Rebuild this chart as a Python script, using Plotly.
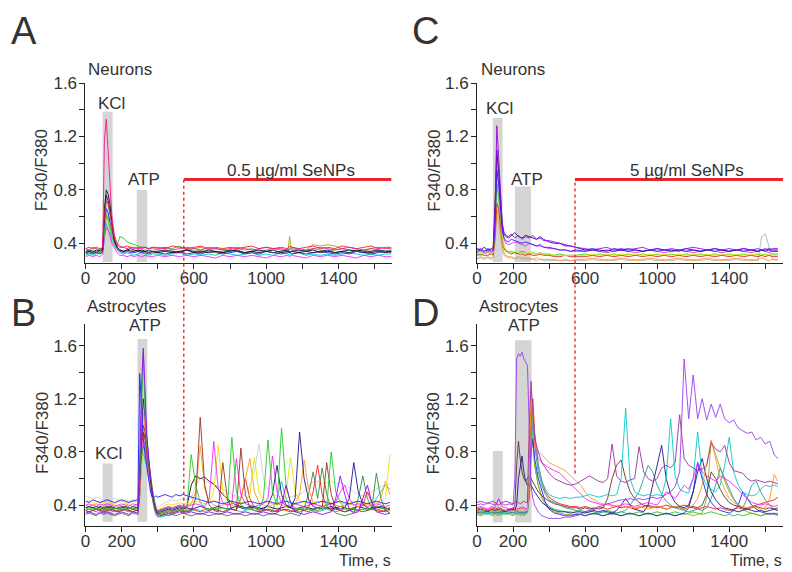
import plotly.graph_objects as go

# Fura-2 ratio traces (F340/F380 x 100)

# ---- A: neurons, 0.5 ug/ml SeNPs ----
T_A = [0, 20, 40, 60, 80, 95, 105, 115, 125, 135, 145, 160, 175, 190, 210, 230, 250, 270, 290, 310, 330, 350, 370,
       400, 440, 480, 520, 560, 600, 640, 680, 720, 760, 800, 840, 880, 920, 960, 1000, 1040, 1080, 1120, 1130,
       1140, 1180, 1220, 1260, 1300, 1340, 1380, 1420, 1460, 1500, 1540, 1580, 1620, 1660, 1694]
A_PINK = [36, 35, 37, 36, 35, 37, 118, 133, 112, 86, 62, 46, 40, 38, 37, 36, 37, 36, 37, 36, 37, 36, 37,
          36, 37, 35, 36, 37, 36, 35, 37, 36, 35, 36, 37, 36, 35, 36, 37, 36, 36, 35, 36, 37, 36, 35, 36, 37, 36,
          35, 36, 37, 36, 35, 36, 37, 36, 36]
A_BLACK = [33, 34, 33, 35, 34, 35, 66, 80, 77, 70, 57, 42, 37, 35, 34, 35, 34, 34, 35, 34, 34, 33, 34,
           33, 34, 33, 34, 35, 33, 34, 33, 34, 33, 35, 34, 33, 34, 33, 34, 35, 33, 34, 33, 34, 33, 34, 35, 33, 34,
           33, 34, 33, 35, 34, 33, 34, 33, 34]
A_GREEN = [34, 33, 35, 34, 33, 35, 50, 62, 58, 52, 45, 40, 38, 45, 44, 41, 40, 39, 38, 37, 37, 36, 36,
           35, 37, 36, 38, 35, 36, 37, 35, 36, 35, 34, 36, 35, 36, 34, 35, 36, 35, 34, 35, 36, 35, 34, 36, 35, 34,
           35, 36, 35, 34, 35, 36, 35, 34, 35]
A_BLUE = [32, 33, 32, 33, 32, 34, 55, 66, 63, 57, 49, 40, 36, 34, 33, 34, 33, 33, 34, 33, 33, 32, 33,
          33, 32, 33, 34, 32, 33, 32, 34, 33, 32, 33, 34, 32, 33, 32, 34, 33, 32, 33, 34, 32, 33, 32, 33, 34, 33,
          32, 33, 32, 34, 33, 32, 33, 34, 33]
A_NAVY = [34, 35, 34, 33, 35, 36, 60, 76, 72, 65, 55, 42, 37, 35, 34, 35, 36, 35, 34, 35, 34, 35, 34,
          34, 35, 34, 33, 35, 34, 33, 35, 34, 33, 34, 35, 33, 34, 35, 34, 33, 34, 35, 33, 34, 35, 34, 33, 34, 35,
          33, 34, 35, 34, 33, 34, 35, 34, 34]
A_CYAN = [31, 32, 31, 32, 33, 32, 45, 55, 50, 46, 42, 38, 35, 33, 32, 33, 32, 31, 32, 33, 32, 31, 32,
          32, 31, 32, 33, 31, 32, 31, 32, 31, 33, 32, 31, 32, 33, 31, 32, 31, 33, 32, 31, 32, 33, 31, 32, 31, 32,
          31, 32, 33, 32, 31, 32, 31, 32, 32]
A_OLIVE = [33, 34, 33, 34, 33, 35, 50, 60, 58, 55, 48, 40, 36, 35, 34, 34, 35, 34, 35, 34, 33, 34, 33,
           34, 35, 34, 33, 35, 34, 35, 34, 33, 34, 35, 34, 33, 34, 35, 34, 33, 34, 35, 45, 35, 34, 35, 39, 38, 39,
           38, 36, 35, 34, 35, 34, 35, 34, 35]
A_RED = [36, 37, 36, 37, 36, 37, 62, 72, 70, 63, 54, 44, 39, 37, 37, 38, 37, 37, 36, 37, 37, 36, 37,
         37, 36, 38, 37, 36, 37, 38, 36, 37, 36, 37, 36, 37, 38, 36, 37, 36, 37, 36, 38, 37, 36, 37, 38, 36, 37,
         36, 38, 37, 36, 37, 38, 36, 37, 37]
A_MAGENTA = [30, 31, 30, 31, 30, 32, 45, 52, 50, 46, 40, 36, 33, 31, 31, 30, 31, 30, 31, 30, 31, 30, 30,
             31, 30, 31, 30, 31, 30, 31, 30, 29, 31, 30, 31, 30, 31, 30, 29, 31, 30, 31, 30, 31, 30, 29, 31, 30,
             31, 30, 31, 30, 29, 31, 30, 31, 30, 30]

# ---- C: neurons, 5 ug/ml SeNPs ----
T_C = [0, 20, 40, 60, 80, 90, 100, 110, 120, 130, 140, 150, 160, 175, 190, 210, 230, 250, 270, 290, 310, 330, 350,
       370, 400, 430, 460, 490, 520, 550,
       600, 640, 680, 720, 760, 800, 840, 880, 920, 960, 1000, 1040, 1080, 1120, 1160, 1200, 1240, 1280, 1320,
       1360, 1400, 1440, 1480, 1520, 1560, 1580, 1600, 1620, 1640, 1670]
C_PURPLE = [35, 36, 34, 36, 35, 36, 60, 128, 105, 80, 55, 48, 46, 45, 47, 44, 46, 43, 45, 44, 46, 43, 44, 42, 42,
            41, 40, 39, 38, 37,
            36, 35, 36, 37, 35, 36, 35, 36, 37, 35, 36, 35, 36, 35, 36, 37, 36, 35, 36, 35, 36, 35, 36, 35, 36,
            35, 36, 35, 36, 36]
C_NAVY = [36, 35, 37, 35, 36, 37, 70, 110, 95, 75, 55, 47, 45, 44, 46, 48, 45, 44, 46, 45, 44, 43, 45, 43, 41,
          40, 40, 38, 38, 37,
          35, 36, 35, 34, 36, 35, 36, 35, 34, 35, 36, 35, 35, 34, 36, 35, 34, 35, 36, 35, 34, 35, 36, 35, 34,
          35, 35, 36, 35, 35]
C_BLUE = [34, 35, 34, 35, 34, 35, 55, 95, 85, 65, 50, 44, 42, 41, 43, 42, 41, 40, 41, 40, 39, 38, 39, 37, 37,
          36, 35, 35, 34, 35,
          34, 35, 34, 35, 34, 35, 34, 35, 34, 35, 34, 35, 34, 35, 34, 35, 34, 35, 34, 35, 34, 35, 34, 35, 34,
          35, 34, 35, 34, 34]
C_YELLOW = [32, 33, 32, 33, 32, 33, 70, 129, 100, 70, 45, 38, 35, 34, 33, 34, 33, 32, 33, 33, 32, 32, 33, 32, 32,
            31, 31, 31, 31, 31,
            31, 32, 31, 32, 31, 32, 31, 32, 31, 32, 31, 32, 31, 32, 31, 32, 31, 32, 31, 32, 31, 32, 31, 32, 31,
            32, 31, 32, 31, 31]
C_RED = [31, 32, 31, 31, 32, 31, 45, 70, 66, 55, 42, 36, 34, 33, 32, 33, 32, 32, 31, 32, 31, 31, 32, 31, 31,
         30, 30, 31, 30, 30,
         30, 31, 30, 31, 30, 31, 30, 31, 30, 31, 30, 31, 30, 31, 30, 31, 30, 31, 30, 31, 30, 31, 30, 31, 30,
         31, 30, 31, 30, 30]
C_GREEN = [32, 31, 32, 33, 32, 32, 50, 85, 75, 60, 45, 37, 35, 34, 34, 33, 33, 34, 33, 32, 33, 32, 33, 32, 32,
           31, 32, 31, 31, 31,
           32, 31, 32, 31, 32, 31, 32, 31, 32, 31, 32, 31, 32, 31, 32, 31, 32, 31, 32, 31, 32, 31, 32, 31, 32,
           31, 32, 31, 32, 32]
C_ORANGE = [29, 30, 29, 30, 29, 30, 42, 65, 60, 50, 38, 33, 31, 30, 30, 29, 30, 29, 29, 29, 28, 29, 28, 28, 28,
            28, 27, 28, 27, 28,
            28, 29, 28, 27, 28, 29, 28, 27, 28, 29, 28, 27, 28, 29, 28, 27, 28, 29, 28, 27, 28, 29, 28, 27, 28,
            29, 28, 27, 28, 28]
C_GRAY = [28, 29, 28, 29, 28, 29, 40, 60, 55, 45, 35, 31, 30, 29, 29, 28, 29, 28, 28, 28, 28, 27, 28, 27, 27,
          27, 27, 27, 27, 27,
          27, 28, 27, 28, 27, 28, 27, 28, 27, 28, 27, 28, 27, 28, 27, 28, 27, 28, 27, 28, 27, 28, 27, 28, 27,
          45, 47, 38, 28, 27]
C_MAGENTA = [33, 34, 33, 34, 33, 34, 55, 105, 90, 70, 50, 43, 40, 39, 40, 41, 40, 39, 38, 40, 39, 38, 38, 37, 36,
             36, 35, 35, 34, 34,
             34, 35, 34, 33, 34, 35, 34, 33, 34, 35, 34, 33, 34, 35, 34, 33, 34, 35, 34, 33, 34, 35, 34, 33, 34,
             35, 34, 33, 34, 34]

# ---- B: astrocytes, 0.5 ug/ml SeNPs ----
T_B = [0, 20, 40, 60, 80, 100, 120, 140, 160, 180, 200, 220, 240, 260, 280, 290, 300, 310, 320, 330, 340, 350,
       360, 370, 380, 390, 400, 420, 440, 460, 480, 500, 520, 540,
       560, 585, 610, 635, 660, 685, 710, 735, 760, 785, 810, 835, 860, 885, 910, 935, 960, 985, 1010, 1035,
       1060, 1085, 1110, 1135, 1160, 1185, 1210, 1235, 1260, 1285, 1310, 1335, 1360, 1385, 1410, 1435, 1460,
       1485, 1510, 1535, 1560, 1585, 1610, 1635, 1660, 1685]
B_GREEN = [37, 38, 37, 38, 37, 38, 37, 38, 37, 38, 37, 38, 37, 38, 37, 37, 60, 120, 155, 110, 85, 72, 62, 52,
           44, 38, 35, 34, 35, 36, 35, 36, 37, 36,
           36, 78, 55, 42, 38, 37, 38, 37, 38, 37, 91, 50, 40, 38, 37, 38, 37, 45, 89, 50, 40, 98, 55, 42, 38,
           37, 38, 37, 36, 38, 37, 38, 80, 50, 42, 38, 37, 38, 36, 37, 38, 37, 36, 38, 37, 38]
B_BROWN = [36, 35, 36, 37, 36, 35, 36, 37, 36, 35, 36, 37, 36, 35, 36, 36, 55, 90, 100, 95, 80, 68, 58, 48,
           40, 36, 34, 33, 34, 35, 34, 35, 36, 35,
           35, 36, 45, 106, 55, 40, 36, 35, 72, 45, 37, 36, 83, 48, 38, 36, 35, 36, 37, 36, 35, 36, 37, 36, 35,
           37, 36, 35, 37, 36, 38, 72, 48, 38, 36, 35, 36, 37, 36, 35, 36, 37, 36, 35, 36, 37]
B_MAGENTA = [40, 41, 40, 39, 41, 40, 41, 40, 39, 40, 41, 40, 39, 41, 40, 40, 50, 80, 90, 85, 75, 65, 56, 48,
             42, 38, 36, 37, 38, 39, 38, 39, 40, 39,
             39, 40, 41, 40, 39, 45, 88, 52, 42, 40, 41, 75, 48, 41, 40, 39, 40, 41, 45, 77, 50, 42, 40, 39, 41,
             40, 39, 40, 41, 40, 39, 40, 41, 42, 50, 55, 45, 40, 41, 40, 39, 40, 41, 40, 39, 40]
B_YELLOW = [42, 43, 42, 41, 43, 42, 43, 42, 41, 42, 43, 42, 41, 43, 42, 42, 48, 70, 80, 78, 70, 62, 55, 47,
            41, 37, 36, 38, 40, 41, 40, 41, 42, 41,
            41, 42, 43, 42, 41, 42, 50, 85, 50, 43, 42, 41, 42, 43, 48, 76, 50, 43, 42, 41, 42, 43, 48, 76, 50,
            43, 42, 41, 42, 43, 42, 41, 42, 43, 42, 41, 42, 43, 42, 41, 42, 43, 42, 41, 45, 78]
B_NAVY = [38, 39, 38, 37, 39, 38, 39, 38, 37, 38, 39, 38, 37, 39, 38, 38, 60, 100, 120, 105, 88, 72, 60, 50,
          42, 37, 35, 36, 37, 38, 37, 38, 39, 38,
          38, 37, 38, 39, 38, 37, 38, 39, 38, 37, 38, 39, 38, 37, 38, 39, 38, 37, 40, 48, 70, 48, 40, 38, 45,
          95, 60, 44, 39, 38, 37, 38, 39, 38, 37, 38, 45, 72, 50, 41, 38, 37, 38, 39, 38, 37]
B_BLUE = [43, 42, 44, 43, 42, 43, 44, 43, 42, 43, 44, 43, 42, 43, 44, 44, 139, 110, 90, 78, 68, 58, 50, 46,
          46, 47, 46, 47, 48, 47, 46, 48, 47, 48,
          47, 46, 45, 44, 43, 42, 43, 42, 41, 42, 43, 42, 41, 42, 43, 42, 41, 42, 43, 42, 41, 42, 43, 42, 41,
          42, 43, 42, 41, 42, 43, 42, 41, 42, 43, 42, 41, 42, 43, 42, 41, 42, 43, 42, 41, 42]
B_GRAY = [47, 46, 45, 46, 45, 44, 45, 44, 45, 44, 43, 44, 43, 44, 43, 44, 55, 75, 85, 82, 75, 66, 58, 50,
          44, 40, 38, 40, 42, 43, 44, 43, 44, 45,
          44, 45, 55, 60, 58, 57, 55, 54, 52, 50, 48, 47, 46, 48, 55, 65, 86, 60, 52, 48, 47, 46, 45, 46, 47,
          48, 50, 55, 57, 58, 56, 57, 58, 56, 57, 55, 53, 50, 48, 47, 48, 50, 52, 54, 55, 56]
B_ORANGE = [40, 39, 40, 41, 40, 39, 40, 41, 40, 39, 40, 41, 40, 39, 40, 40, 65, 105, 110, 95, 80, 68, 58, 48,
            41, 37, 36, 37, 38, 39, 38, 39, 40, 39,
            40, 41, 50, 85, 52, 43, 40, 39, 40, 41, 40, 39, 45, 60, 75, 50, 42, 40, 39, 40, 41, 40, 39, 40, 41,
            48, 74, 52, 42, 40, 39, 40, 41, 40, 39, 40, 41, 40, 39, 40, 41, 40, 39, 45, 58, 48]
B_RED = [36, 37, 36, 35, 37, 36, 37, 36, 35, 36, 37, 36, 35, 37, 36, 36, 50, 85, 95, 90, 78, 66, 56, 47,
         40, 35, 33, 34, 35, 36, 35, 36, 37, 36,
         36, 37, 36, 35, 37, 36, 37, 36, 35, 36, 37, 36, 45, 60, 45, 38, 36, 37, 36, 35, 36, 37, 36, 35, 36,
         37, 36, 38, 50, 70, 48, 39, 36, 37, 36, 35, 36, 37, 36, 40, 50, 42, 37, 36, 35, 36]
B_PURPLE = [34, 35, 34, 33, 35, 34, 35, 34, 33, 34, 35, 34, 33, 35, 34, 34, 70, 130, 158, 120, 92, 75, 62, 50,
            42, 36, 33, 32, 33, 34, 33, 34, 35, 34,
            34, 35, 34, 33, 34, 35, 34, 33, 34, 35, 34, 33, 34, 35, 34, 33, 34, 35, 34, 33, 34, 40, 55, 42, 35,
            34, 33, 34, 35, 34, 33, 34, 35, 45, 62, 48, 37, 34, 35, 45, 55, 42, 35, 34, 33, 34]
B_DKGREEN = [33, 34, 33, 32, 34, 33, 34, 33, 32, 33, 34, 33, 32, 34, 33, 33, 45, 75, 85, 80, 72, 62, 54, 45,
             38, 33, 31, 32, 33, 32, 33, 32, 33, 34,
             33, 32, 33, 34, 33, 32, 33, 34, 33, 32, 33, 34, 33, 32, 33, 34, 33, 32, 33, 34, 33, 32, 33, 34, 33,
             32, 38, 48, 65, 45, 68, 48, 38, 34, 33, 32, 33, 34, 45, 62, 45, 38, 64, 45, 36, 34]
B_BLACK = [38, 39, 38, 39, 38, 37, 38, 39, 38, 37, 38, 39, 38, 37, 38, 38, 55, 88, 95, 90, 80, 68, 58, 48,
           41, 36, 34, 35, 36, 37, 36, 37, 38, 37,
           38, 55, 62, 60, 61, 58, 56, 52, 48, 45, 42, 40, 39, 38, 39, 38, 37, 38, 39, 38, 37, 38, 39, 38, 37,
           38, 39, 38, 37, 38, 39, 38, 37, 38, 39, 38, 37, 38, 39, 38, 37, 38, 39, 38, 37, 38]
B_CYAN = [36, 35, 36, 37, 36, 35, 36, 37, 36, 35, 36, 37, 36, 35, 36, 36, 48, 70, 80, 75, 68, 60, 52, 45,
          39, 34, 32, 31, 32, 33, 34, 35, 36, 35,
          35, 36, 37, 36, 35, 36, 37, 36, 35, 36, 37, 36, 35, 36, 37, 36, 35, 36, 37, 36, 45, 58, 45, 38, 36,
          35, 36, 37, 36, 35, 36, 37, 36, 35, 36, 37, 36, 35, 36, 37, 36, 38, 45, 50, 55, 52]

# ---- D: astrocytes, 5 ug/ml SeNPs ----
T_D = [0, 20, 40, 60, 80, 100, 120, 140, 160, 180, 200, 210, 220, 230, 240, 250, 260, 270, 280, 290, 300, 310,
       320, 340, 360, 380, 400, 430, 460, 490, 520, 550,
       575, 600, 625, 650, 675, 700, 725, 750, 775, 800, 825, 850, 875, 900, 925, 950, 975, 1000, 1025, 1050,
       1075, 1100, 1125, 1150, 1175, 1200, 1225, 1250, 1275, 1300, 1325, 1350, 1375, 1400, 1425, 1450, 1475,
       1500, 1525, 1550, 1575, 1600, 1625, 1650, 1670]
D_VIOLET = [40, 41, 40, 42, 41, 40, 44, 41, 40, 41, 40, 60, 150, 154, 152, 155, 150, 148, 145, 100, 55, 45, 40,
            35, 32, 31, 30, 30, 30, 31, 31, 32,
            33, 35, 36, 37, 38, 40, 41, 42, 43, 44, 44, 45, 44, 45, 44, 45, 46, 45, 46, 48, 50, 54, 65, 150, 105,
            138, 105, 120, 104, 116, 106, 116, 105, 102, 104, 98, 96, 94, 95, 89, 91, 86, 88, 78, 75]
D_MAUVE = [42, 43, 42, 41, 43, 42, 40, 42, 43, 42, 41, 42, 43, 42, 41, 42, 43, 42, 42, 100, 133, 110, 90, 80,
           72, 68, 64, 60, 58, 56, 55, 56,
           58, 60, 62, 60, 58, 57, 60, 86, 62, 58, 57, 59, 60, 84, 65, 60, 58, 60, 68, 70, 68, 72, 108, 75, 70,
           68, 66, 67, 70, 87, 82, 80, 85, 72, 66, 65, 64, 60, 58, 59, 58, 57, 58, 57, 56]
D_ORANGE = [36, 35, 36, 37, 36, 35, 36, 37, 36, 35, 36, 35, 36, 37, 36, 35, 36, 37, 36, 60, 125, 100, 85, 80,
            78, 75, 72, 70, 68, 66, 62, 58,
            55, 50, 46, 44, 42, 41, 40, 39, 40, 39, 38, 39, 38, 39, 38, 37, 38, 39, 38, 37, 38, 39, 38, 37, 38,
            40, 45, 55, 70, 89, 75, 60, 52, 45, 42, 40, 39, 38, 39, 38, 37, 38, 45, 63, 58]
D_MAGENTA = [38, 39, 38, 37, 39, 38, 45, 39, 38, 37, 38, 39, 38, 37, 38, 39, 38, 37, 38, 50, 95, 100, 85, 75,
             72, 70, 68, 66, 64, 60, 56, 52,
             48, 45, 43, 42, 41, 40, 41, 40, 39, 40, 41, 40, 39, 40, 41, 42, 41, 40, 45, 50, 48, 45, 50, 55, 52,
             60, 72, 65, 62, 60, 58, 62, 60, 58, 55, 52, 48, 45, 42, 41, 40, 41, 40, 39, 40]
D_CYAN = [35, 36, 35, 34, 36, 35, 36, 35, 34, 35, 36, 35, 34, 35, 36, 35, 36, 35, 36, 45, 80, 110, 90, 70,
          58, 52, 48, 46, 45, 46, 45, 46,
          46, 47, 48, 47, 46, 47, 48, 47, 48, 60, 113, 60, 50, 48, 47, 48, 47, 48, 47, 60, 105, 62, 52, 50, 49,
          60, 95, 62, 55, 52, 50, 55, 70, 91, 65, 55, 50, 48, 47, 48, 52, 55, 54, 55, 54]
D_NAVY = [36, 37, 36, 35, 37, 36, 37, 36, 35, 36, 37, 36, 40, 60, 70, 77, 65, 58, 55, 56, 55, 52, 50, 46,
          42, 40, 38, 36, 35, 35, 34, 35,
          35, 34, 35, 36, 35, 36, 35, 34, 36, 40, 45, 40, 37, 36, 35, 40, 55, 70, 85, 60, 48, 42, 39, 38, 40,
          50, 65, 75, 60, 50, 44, 40, 38, 37, 36, 35, 36, 37, 36, 35, 36, 35, 36, 37, 36]
D_TEAL = [34, 35, 34, 33, 35, 34, 35, 34, 33, 34, 35, 34, 33, 34, 35, 34, 35, 34, 35, 50, 90, 110, 85, 65,
          55, 48, 44, 42, 40, 38, 37, 36,
          36, 35, 36, 35, 34, 35, 36, 35, 34, 35, 36, 40, 45, 50, 60, 70, 65, 55, 48, 43, 40, 38, 37, 36, 35,
          36, 37, 36, 38, 45, 55, 68, 60, 52, 45, 40, 38, 45, 55, 58, 50, 44, 40, 37, 36]
D_BROWN = [36, 35, 36, 37, 36, 35, 36, 35, 36, 37, 36, 40, 70, 88, 75, 65, 60, 58, 60, 62, 60, 58, 55, 50,
           47, 45, 43, 41, 40, 39, 38, 38,
           37, 38, 37, 38, 37, 38, 45, 60, 70, 74, 60, 50, 45, 42, 40, 39, 38, 39, 38, 37, 38, 39, 38, 37, 38,
           39, 38, 40, 48, 65, 60, 52, 46, 42, 40, 39, 38, 37, 38, 39, 38, 37, 38, 37, 38]
D_RED = [37, 38, 37, 36, 38, 37, 38, 37, 36, 37, 38, 37, 36, 37, 38, 37, 38, 37, 38, 60, 110, 120, 95, 70,
         58, 50, 46, 43, 41, 40, 39, 39,
         38, 39, 38, 37, 39, 38, 37, 38, 39, 38, 39, 38, 37, 38, 39, 40, 39, 38, 39, 40, 39, 38, 39, 40, 39,
         38, 37, 38, 39, 38, 37, 38, 37, 36, 37, 38, 37, 38, 39, 40, 41, 42, 43, 44, 46]
D_GREEN = [34, 33, 34, 35, 33, 34, 33, 34, 35, 34, 33, 34, 35, 34, 33, 34, 33, 34, 35, 55, 110, 90, 70, 55,
           46, 42, 39, 37, 36, 35, 35, 34,
           34, 35, 34, 33, 34, 35, 34, 33, 34, 35, 34, 33, 34, 35, 34, 33, 34, 35, 34, 33, 34, 35, 34, 33, 34,
           35, 34, 33, 34, 35, 34, 33, 32, 33, 32, 33, 32, 33, 34, 33, 32, 33, 34, 33, 34]
D_BLUE = [35, 34, 35, 36, 34, 35, 34, 35, 36, 35, 34, 35, 36, 35, 34, 35, 34, 35, 36, 50, 80, 90, 75, 60,
          50, 42, 37, 34, 33, 32, 32, 33,
          33, 32, 33, 34, 33, 32, 33, 34, 33, 32, 33, 34, 33, 32, 33, 34, 33, 32, 33, 34, 33, 32, 33, 34, 38,
          50, 72, 60, 48, 42, 38, 36, 35, 34, 36, 40, 50, 45, 40, 37, 35, 34, 33, 34, 33]
D_OLIVE = [33, 32, 33, 34, 32, 33, 32, 33, 34, 33, 32, 33, 34, 33, 32, 33, 32, 33, 34, 45, 75, 90, 70, 55,
           45, 40, 37, 35, 34, 33, 33, 33,
           33, 32, 33, 34, 33, 32, 33, 34, 33, 32, 33, 34, 33, 32, 33, 34, 33, 32, 33, 34, 33, 32, 33, 34, 33,
           32, 33, 34, 45, 88, 78, 68, 58, 50, 44, 40, 37, 35, 34, 33, 32, 33, 34, 33, 32]

# stimulus windows: (start s, end s, bar top)
STIM_A = [(95, 150, 1.385), (284, 342, 0.80)]
STIM_C = [(88, 142, 1.34), (211, 300, 0.826)]
STIM_B = [(95, 150, 0.713), (288, 342, 1.65)]
STIM_D = [(88, 143, 0.807), (211, 303, 1.64)]
SENP_START = 544
SENP_LEVEL = 0.878

COLORS = {
    "pink": "#ff1493", "black": "#111111", "green": "#22cc22", "blue": "#2020ff", "navy": "#24148c",
    "cyan": "#00cccc", "olive": "#a3a32a", "red": "#ee2020", "magenta": "#ff22ff", "purple": "#9900ff",
    "yellow": "#e6e600", "orange": "#ff9922", "gray": "#b4b4b4", "brown": "#993322", "dkgreen": "#2e8b3e",
    "violet": "#9a3cf0", "mauve": "#993399", "teal": "#2f9a8c", "dkbrown": "#663322", "ltgray": "#cfcfcf",
}

PANELS = {
    "A": ("x", "y", T_A, [("cyan", A_CYAN), ("magenta", A_MAGENTA), ("blue", A_BLUE), ("olive", A_OLIVE),
                          ("green", A_GREEN), ("navy", A_NAVY), ("black", A_BLACK), ("red", A_RED),
                          ("pink", A_PINK)]),
    "C": ("x2", "y2", T_C, [("gray", C_GRAY), ("orange", C_ORANGE), ("red", C_RED), ("green", C_GREEN),
                            ("yellow", C_YELLOW), ("magenta", C_MAGENTA), ("blue", C_BLUE), ("navy", C_NAVY),
                            ("purple", C_PURPLE)]),
    "B": ("x3", "y3", T_B, [("ltgray", B_GRAY), ("cyan", B_CYAN), ("dkgreen", B_DKGREEN), ("black", B_BLACK),
                            ("red", B_RED), ("orange", B_ORANGE), ("yellow", B_YELLOW), ("magenta", B_MAGENTA),
                            ("brown", B_BROWN), ("navy", B_NAVY), ("blue", B_BLUE), ("green", B_GREEN),
                            ("purple", B_PURPLE)]),
    "D": ("x4", "y4", T_D, [("green", D_GREEN), ("olive", D_OLIVE), ("blue", D_BLUE), ("red", D_RED),
                            ("dkbrown", D_BROWN), ("teal", D_TEAL), ("navy", D_NAVY), ("cyan", D_CYAN),
                            ("magenta", D_MAGENTA), ("orange", D_ORANGE), ("mauve", D_MAUVE),
                            ("violet", D_VIOLET)]),
}

W, H = 792, 572
FONT = "Liberation Sans, Arial, sans-serif"
TXT = "#333333"


def px(x):
    return x / W


def py(y):
    return 1 - y / H


fig = go.Figure()

for key, (xa, ya, times, traces) in PANELS.items():
    for cname, vals in traces:
        fig.add_trace(go.Scatter(
            x=times, y=[v / 100 for v in vals], mode="lines",
            line=dict(color=COLORS[cname], width=0.9),
            xaxis=xa, yaxis=ya, showlegend=False, hoverinfo="skip",
        ))

x_ticks = [0, 200, 400, 600, 800, 1000, 1200, 1400, 1600]
x_text = ["0", "200", "", "600", "", "1000", "", "1400", ""]
y_ticks = [0.4, 0.6, 0.8, 1.0, 1.2, 1.4, 1.6]
y_text = ["0.4", "", "0.8", "", "1.2", "", "1.6"]

axis_common = dict(showline=True, linecolor="#222222", linewidth=1, ticks="outside", ticklen=5,
                   tickcolor="#222222", tickwidth=1, showgrid=False, zeroline=False,
                   tickfont=dict(family=FONT, size=17, color=TXT))


def xaxis(domain, rng, anchor):
    # labels sit tight under the tick marks in the original
    return dict(axis_common, domain=domain, range=rng, anchor=anchor, tickmode="array",
                tickvals=x_ticks, ticktext=x_text, ticklabelstandoff=-5)


def yaxis(domain, rng, anchor):
    return dict(axis_common, domain=domain, range=rng, anchor=anchor, tickmode="array",
                tickvals=y_ticks, ticktext=y_text, ticklabelstandoff=-1)


top_dom = [py(258), py(75)]
bot_dom = [py(525), py(320)]
left_dom = [px(81), px(389)]
right_dom = [px(475), px(783)]
top_rng = [0.253, 1.602]
bot_rng = [0.245, 1.763]

fig.update_layout(
    width=W, height=H, margin=dict(l=0, r=0, t=0, b=0),
    paper_bgcolor="white", plot_bgcolor="rgba(0,0,0,0)", showlegend=False,
    xaxis=xaxis(left_dom, [0, 1694], "y"), yaxis=yaxis(top_dom, top_rng, "x"),
    xaxis2=xaxis(right_dom, [0, 1699], "y2"), yaxis2=yaxis(top_dom, top_rng, "x2"),
    xaxis3=xaxis(left_dom, [0, 1694], "y3"), yaxis3=yaxis(bot_dom, bot_rng, "x3"),
    xaxis4=xaxis(right_dom, [0, 1699], "y4"), yaxis4=yaxis(bot_dom, bot_rng, "x4"),
)

shapes = []
for stims, xa, ya, base in [(STIM_A, "x", "y", 0.26), (STIM_C, "x2", "y2", 0.26),
                            (STIM_B, "x3", "y3", 0.275), (STIM_D, "x4", "y4", 0.27)]:
    for t0, t1, top in stims:
        shapes.append(dict(type="rect", xref=xa, yref=ya, x0=t0, x1=t1, y0=base, y1=top,
                           fillcolor="#d5d5d5", line=dict(width=0), layer="below"))

# SeNPs application bars and dotted onset markers
for xa, ya, xend, ybot in [("x", "y", 1694, py(518)), ("x2", "y2", 1699, py(472))]:
    shapes.append(dict(type="line", xref=xa, yref=ya, x0=SENP_START, x1=xend, y0=SENP_LEVEL, y1=SENP_LEVEL,
                       line=dict(color="#e5262b", width=3)))
    shapes.append(dict(type="line", xref=xa, yref="paper", x0=SENP_START, x1=SENP_START,
                       y0=ybot, y1=py(173), line=dict(color="#ee3333", width=1.5, dash="dot")))
fig.update_layout(shapes=shapes)


def label(text, x, y, size=17, xanchor="center", angle=0):
    fig.add_annotation(text=text, x=px(x), y=py(y), xref="paper", yref="paper", showarrow=False,
                       xanchor=xanchor, yanchor="middle", textangle=angle, borderpad=0,
                       font=dict(family=FONT, size=size, color=TXT))


# panel letters
label("A", 19, 22, size=38)
label("C", 423, 22, size=38)
label("B", 19, 309, size=38)
label("D", 423, 309, size=38)

# cell type titles
label("Neurons", 116, 61)
label("Neurons", 511, 61)
label("Astrocytes", 122, 302)
label("Astrocytes", 517, 302)

# stimulus labels
label("KCl", 107, 96)
label("ATP", 140, 173)
label("KCl", 498, 101)
label("ATP", 525, 173)
label("ATP", 141, 322)
label("KCl", 104, 452)
label("ATP", 522, 322)

label("0.5 µg/ml SeNPs", 288, 164)
label("5 µg/ml SeNPs", 686, 164)

# axis titles
for x, y in [(37, 164), (432, 164), (37, 431), (431, 431)]:
    label("F340/F380", x, y, angle=-90)
label("Time, s", 389, 560, size=16, xanchor="right")
label("Time, s", 783, 560, size=16, xanchor="right")

# the page body has a default 8px margin; drop it so the figure sits at the window origin
fig.write_html("out.html", config={"displayModeBar": False},
               post_script="document.body.style.margin='0px';")
